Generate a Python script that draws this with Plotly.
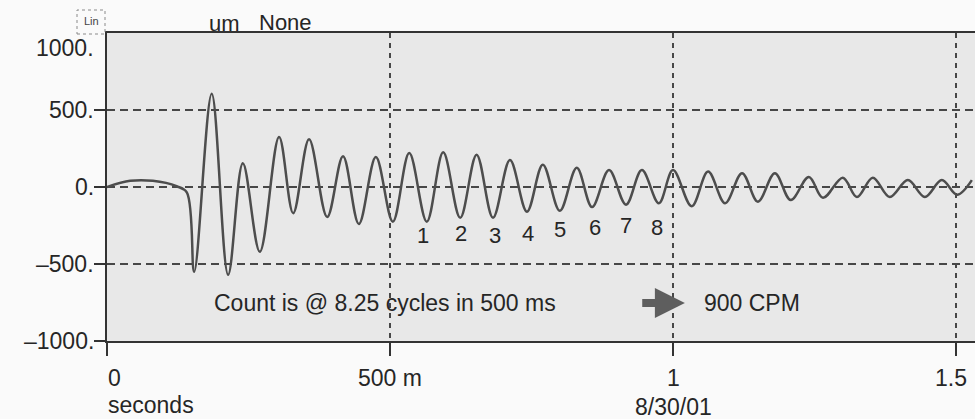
import plotly.graph_objects as go

# ---- data (time in seconds, amplitude in um) ----
time_s = [0.000, 0.041, 0.081, 0.123, 0.141, 0.154, 0.185, 0.214, 0.240,
          0.270, 0.304, 0.329, 0.357, 0.389, 0.417, 0.445, 0.475, 0.505, 0.534,
          0.565, 0.594, 0.624, 0.653, 0.682, 0.712, 0.742, 0.770, 0.800, 0.830,
          0.857, 0.887, 0.917, 0.945, 0.975, 1.000, 1.033, 1.062, 1.092, 1.122,
          1.150, 1.180, 1.208, 1.240, 1.265, 1.300, 1.325, 1.353, 1.383, 1.415,
          1.445, 1.475, 1.502, 1.528]
amp_um = [0, 40, 40, 5, -35, -550, 605, -570, 155,
          -420, 325, -170, 310, -195, 200, -240, 195, -225, 220,
          -225, 225, -200, 210, -200, 175, -160, 145, -155, 125,
          -130, 110, -115, 110, -105, 110, -125, 100, -105, 90,
          -95, 90, -85, 65, -70, 60, -65, 60, -65, 45,
          -65, 45, -50, 45]

y_tick_vals = [1000, 500, 0, -500, -1000]
y_tick_text = ["1000.", "500.", "0.", "–500.", "–1000."]
x_tick_vals = [0, 0.5, 1, 1.5]
x_tick_text = ["0", "500 m", "1", "1.5"]
count_labels = ["1", "2", "3", "4", "5", "6", "7", "8"]

FONT = "Liberation Sans, Arial, Helvetica, sans-serif"
TXT = "#262626"
GRID = "#474747"

fig = go.Figure()
fig.add_trace(go.Scatter(
    x=time_s, y=amp_um, mode="lines",
    line=dict(color="#4d4d4d", width=2.5, shape="spline", smoothing=1.0),
    hoverinfo="skip", showlegend=False))

ann = []
# y tick labels
y_label_pos = {1000: 903}
for v, t in zip(y_tick_vals, y_tick_text):
    ann.append(dict(x=0, xref="paper", y=y_label_pos.get(v, v), yref="y",
                    text=t, showarrow=False, xanchor="right", yanchor="middle",
                    xshift=-11, font=dict(size=23, color=TXT, family=FONT)))
# x tick labels
x_anchor = {0: ("left", -1), 0.5: ("center", 0), 1: ("center", 0), 1.5: ("center", -5)}
for v, t in zip(x_tick_vals, x_tick_text):
    a, sh = x_anchor[v]
    ann.append(dict(x=v, xref="x", y=0, yref="paper", text=t, showarrow=False,
                    xanchor=a, yanchor="middle", xshift=sh, yshift=-37,
                    font=dict(size=23, color=TXT, family=FONT)))
ann.append(dict(x=0, xref="x", y=0, yref="paper", text="seconds", showarrow=False,
                xanchor="left", yanchor="middle", xshift=-1, yshift=-64,
                font=dict(size=23, color=TXT, family=FONT)))
ann.append(dict(x=1, xref="x", y=0, yref="paper", text="8/30/01", showarrow=False,
                xanchor="center", yanchor="middle", yshift=-66,
                font=dict(size=23, color=TXT, family=FONT)))
# header
ann.append(dict(x=(207 - 107) / 868, xref="paper", y=1, yref="paper", text="um",
                showarrow=False, xanchor="left", yanchor="middle", yshift=10,
                font=dict(size=22, color=TXT, family=FONT)))
ann.append(dict(x=(257 - 107) / 868, xref="paper", y=1, yref="paper", text="None",
                showarrow=False, xanchor="left", yanchor="middle", yshift=11,
                font=dict(size=22, color=TXT, family=FONT)))
ann.append(dict(x=(91 - 107) / 868, xref="paper", y=(341 - 21) / 308, yref="paper",
                text="Lin", showarrow=False, xanchor="center", yanchor="middle",
                font=dict(size=11, color="#444", family=FONT)))
# cycle count labels
count_pos = [(0.558, -312), (0.625, -299), (0.686, -312), (0.744, -299),
             (0.800, -279), (0.862, -260), (0.917, -247), (0.972, -260)]
for lab, (cx, cy) in zip(count_labels, count_pos):
    ann.append(dict(x=cx, y=cy, xref="x", yref="y", text=lab, showarrow=False,
                    xanchor="center", yanchor="middle",
                    font=dict(size=22, color=TXT, family=FONT)))
# notes
ann.append(dict(x=(212 - 107) / 566, y=-753, xref="x", yref="y",
                text="Count is @ 8.25 cycles in 500 ms", showarrow=False,
                xanchor="left", yanchor="middle",
                font=dict(size=23, color=TXT, family=FONT)))
ann.append(dict(x=(702 - 107) / 566, y=-753, xref="x", yref="y",
                text="900 CPM", showarrow=False, xanchor="left", yanchor="middle",
                font=dict(size=23, color=TXT, family=FONT)))
ann.append(dict(x=1.021, y=-753, xref="x", yref="y", ax=0.943, ay=-753,
                axref="x", ayref="y", text="", showarrow=True, arrowhead=2,
                arrowsize=0.75, arrowwidth=8, arrowcolor="#5e5e5e"))

shapes = [dict(type="rect", xref="paper", yref="paper",
               x0=(77 - 107) / 868, x1=(105 - 107) / 868,
               y0=(341 - 34) / 308, y1=(341 - 10) / 308,
               line=dict(color="#8a8a8a", width=1, dash="dot"), layer="above")]

fig.update_layout(
    width=975, height=419,
    margin=dict(l=107, r=0, t=33, b=78),
    paper_bgcolor="#fafafa", plot_bgcolor="#e8e8e8",
    annotations=ann, shapes=shapes,
    xaxis=dict(range=[0, 868 / 566], showgrid=True, gridcolor=GRID, gridwidth=1.5,
               griddash="5px,5px", tickvals=[0, 0.5, 1, 1.5], showticklabels=False,
               ticks="outside", ticklen=13, tickwidth=2, tickcolor="#333",
               showline=True, linecolor="#333", linewidth=2, mirror=True,
               zeroline=False, fixedrange=True),
    yaxis=dict(range=[-1000, 1000], showgrid=True, gridcolor=GRID, gridwidth=1.5,
               griddash="8px,5px", tickvals=[-1000, -500, 0, 500],
               showticklabels=False, ticks="outside", ticklen=11, tickwidth=2,
               tickcolor="#333", showline=True, linecolor="#333", linewidth=2,
               zeroline=False, fixedrange=True),
)
fig.write_html("out.html")
